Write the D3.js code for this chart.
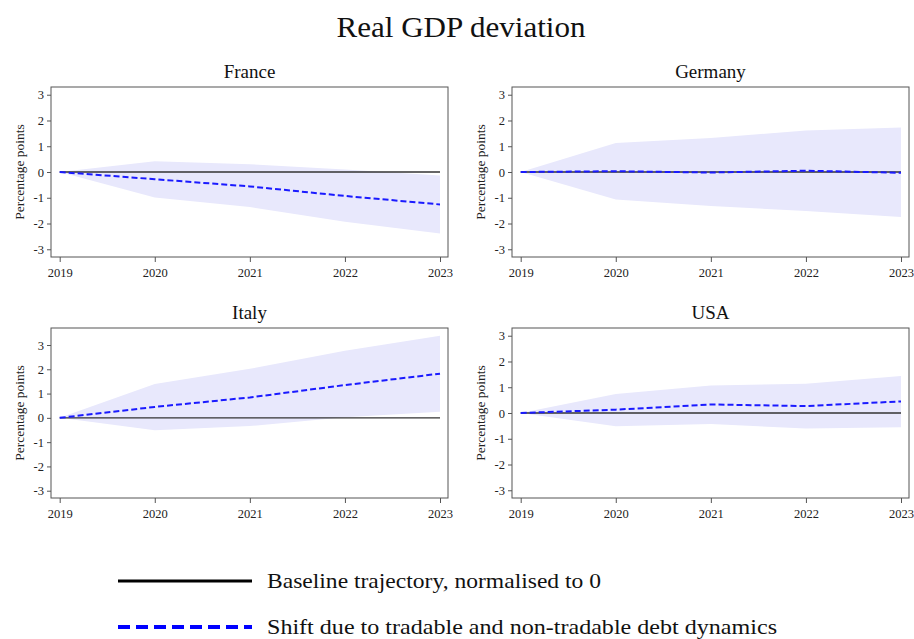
<!DOCTYPE html>
<html><head><meta charset="utf-8">
<script src="https://cdn.jsdelivr.net/npm/d3@7/dist/d3.min.js"></script>
<style>
body{margin:0;background:#fff;}
svg{display:block;font-family:"Liberation Serif","DejaVu Serif",serif;}
</style></head>
<body><svg id="c" width="914" height="639"></svg>
<script>
const years = [2019, 2020, 2021, 2022, 2023];
const countries = ["France", "Germany", "Italy", "USA"];
const yTicks = [-3, -2, -1, 0, 1, 2, 3];
const baseline = [0, 0, 0, 0, 0];
const shiftFrance  = [0, -0.28, -0.56, -0.93, -1.26];
const upperFrance  = [0, 0.42, 0.30, 0.10, -0.14];
const lowerFrance  = [0, -0.99, -1.36, -1.93, -2.39];
const shiftGermany = [0, 0.03, -0.02, 0.05, -0.03];
const upperGermany = [0, 1.13, 1.32, 1.61, 1.73];
const lowerGermany = [0, -1.07, -1.32, -1.51, -1.75];
const shiftItaly   = [0, 0.45, 0.84, 1.35, 1.82];
const upperItaly   = [0, 1.39, 2.02, 2.76, 3.38];
const lowerItaly   = [0, -0.51, -0.34, 0.02, 0.25];
const shiftUSA     = [0, 0.13, 0.33, 0.27, 0.45];
const upperUSA     = [0, 0.74, 1.07, 1.14, 1.44];
const lowerUSA     = [0, -0.51, -0.43, -0.60, -0.55];
const yDomains = [[-3.3, 3.3], [-3.3, 3.3], [-3.3, 3.7], [-3.3, 3.3]];
const legendLabels = ["Baseline trajectory, normalised to 0", "Shift due to tradable and non-tradable debt dynamics"];

const series = {
  France: {shift: shiftFrance, upper: upperFrance, lower: lowerFrance},
  Germany: {shift: shiftGermany, upper: upperGermany, lower: lowerGermany},
  Italy: {shift: shiftItaly, upper: upperItaly, lower: lowerItaly},
  USA: {shift: shiftUSA, upper: upperUSA, lower: lowerUSA}
};

const svg = d3.select("#c");
svg.append("text").attr("x", 461).attr("y", 37).attr("text-anchor", "middle")
  .attr("font-size", 30).attr("fill", "#111")
  .attr("textLength", 249).attr("lengthAdjust", "spacingAndGlyphs").text("Real GDP deviation");

const boxes = [
  {l: 51, r: 448, t: 87, b: 257},
  {l: 512, r: 909, t: 87, b: 257},
  {l: 51, r: 448, t: 328, b: 498},
  {l: 512, r: 909, t: 328, b: 498}
];

countries.forEach((c, i) => {
  const bx = boxes[i];
  const g = svg.append("g");
  const x = d3.scaleLinear().domain([2019, 2023]).range([bx.l + 8.7, bx.r - 8]);
  const y = d3.scaleLinear().domain(yDomains[i]).range([bx.b, bx.t]);
  const d = series[c];
  const pts = years.map((yr, k) => ({yr, s: d.shift[k], u: d.upper[k], lo: d.lower[k], b: baseline[k]}));

  g.append("path").datum(pts)
    .attr("d", d3.area().x(p => x(p.yr)).y0(p => y(p.lo)).y1(p => y(p.u)))
    .attr("fill", "#e8e8fc");
  g.append("path").datum(pts)
    .attr("d", d3.line().x(p => x(p.yr)).y(p => y(p.b)))
    .attr("fill", "none").attr("stroke", "#333").attr("stroke-width", 1.3);
  g.append("path").datum(pts)
    .attr("d", d3.line().x(p => x(p.yr)).y(p => y(p.s)))
    .attr("fill", "none").attr("stroke", "#1a1aff").attr("stroke-width", 2)
    .attr("stroke-dasharray", "6,3");

  g.append("rect").attr("x", bx.l).attr("y", bx.t).attr("width", bx.r - bx.l).attr("height", bx.b - bx.t)
    .attr("fill", "none").attr("stroke", "#555").attr("stroke-width", 1);

  const ya = d3.axisLeft(y).tickValues(yTicks).tickSize(4).tickPadding(3).tickFormat(v => String(v));
  const yg = g.append("g").attr("transform", `translate(${bx.l},0)`).call(ya);
  yg.select(".domain").remove();
  yg.selectAll("line").attr("stroke", "#555");
  yg.selectAll("text").attr("font-size", 12.5).attr("fill", "#222").attr("font-family", "'Liberation Serif',serif");

  const xa = d3.axisBottom(x).tickValues(years).tickSize(5).tickPadding(6).tickFormat(v => String(v));
  const xg = g.append("g").attr("transform", `translate(0,${bx.b})`).call(xa);
  xg.select(".domain").remove();
  xg.selectAll("line").attr("stroke", "#555");
  xg.selectAll("text").attr("font-size", 12.5).attr("fill", "#222").attr("font-family", "'Liberation Serif',serif");

  g.append("text").attr("x", (bx.l + bx.r) / 2).attr("y", bx.t - 9).attr("text-anchor", "middle")
    .attr("font-size", 19).attr("fill", "#111").text(c);

  g.append("text").attr("transform", `translate(${bx.l - 27},${(bx.t + bx.b) / 2}) rotate(-90)`)
    .attr("text-anchor", "middle").attr("font-size", 13.5).attr("fill", "#222").text("Percentage points");
});

const leg = svg.append("g");
const legY = [581, 627];
const legW = [334, 510];
leg.append("line").attr("x1", 118).attr("x2", 252).attr("y1", legY[0]).attr("y2", legY[0])
  .attr("stroke", "#000").attr("stroke-width", 3);
leg.append("line").attr("x1", 118).attr("x2", 252).attr("y1", legY[1]).attr("y2", legY[1])
  .attr("stroke", "#0000ff").attr("stroke-width", 4).attr("stroke-dasharray", "12,6");
legendLabels.forEach((t, i) => {
  leg.append("text").attr("x", 267).attr("y", legY[i] + 7).attr("font-size", 22).attr("fill", "#111")
    .attr("textLength", legW[i]).attr("lengthAdjust", "spacingAndGlyphs").text(t);
});
</script></body></html>
